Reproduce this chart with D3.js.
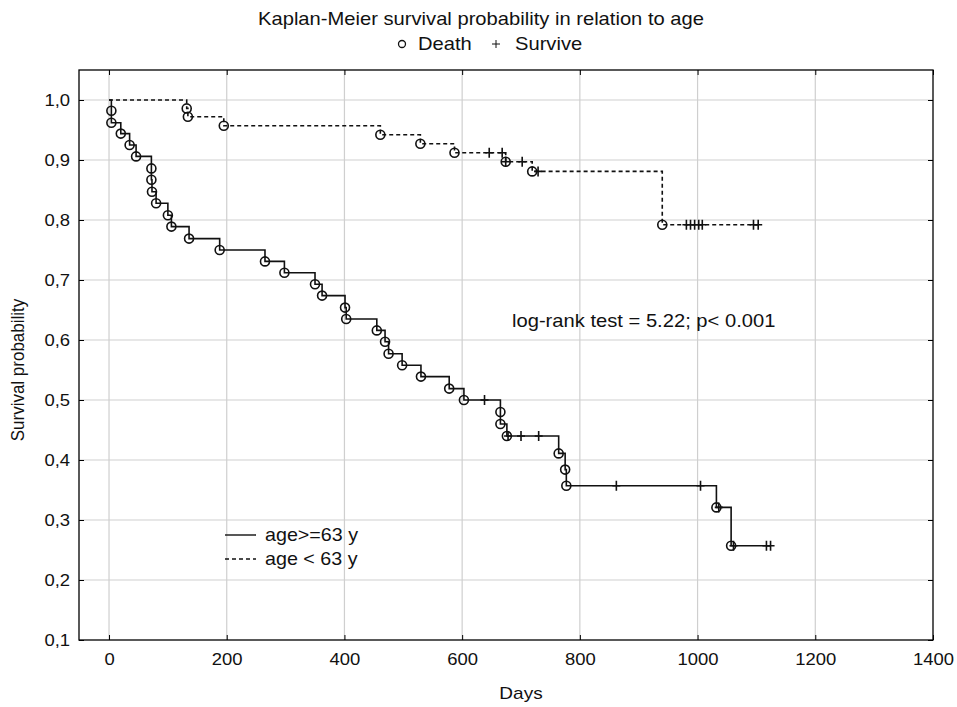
<!DOCTYPE html>
<html>
<head>
<meta charset="utf-8">
<script src="https://cdn.jsdelivr.net/npm/d3@7"></script>
<style>
  body { margin: 0; background: #fff; }
  text { font-family: "Liberation Sans", Arial, sans-serif; fill: #111; }
</style>
</head>
<body>
<div id="container"></div>
<script>
// age >= 63 y : day, survival, status (1 = death, 0 = censored)
const oldDays = [4, 4, 20, 35, 46, 72, 72, 73, 80, 100, 106, 136, 188, 265, 298, 350, 362, 401, 403, 455, 469, 475, 498, 530, 578, 603, 638, 665, 665, 676, 678, 700, 730, 764, 775, 777, 862, 1005, 1032, 1036, 1057, 1061, 1117, 1124];
const oldSurv = [0.982, 0.962, 0.944, 0.925, 0.906, 0.886, 0.867, 0.847, 0.828, 0.808, 0.789, 0.769, 0.750, 0.731, 0.712, 0.693, 0.674, 0.654, 0.635, 0.616, 0.597, 0.577, 0.558, 0.539, 0.519, 0.500, 0.500, 0.480, 0.460, 0.440, 0.440, 0.440, 0.440, 0.411, 0.384, 0.357, 0.357, 0.357, 0.321, 0.321, 0.257, 0.257, 0.257, 0.257];
const oldStatus = [1, 1, 1, 1, 1, 1, 1, 1, 1, 1, 1, 1, 1, 1, 1, 1, 1, 1, 1, 1, 1, 1, 1, 1, 1, 1, 0, 1, 1, 1, 0, 0, 0, 1, 1, 1, 0, 0, 1, 0, 1, 0, 0, 0];

// age < 63 y
const youngDays = [132, 134, 195, 461, 529, 587, 646, 668, 674, 674, 702, 719, 729, 940, 981, 988, 995, 1002, 1008, 1095, 1103];
const youngSurv = [0.986, 0.972, 0.957, 0.942, 0.927, 0.912, 0.912, 0.912, 0.897, 0.897, 0.897, 0.881, 0.881, 0.792, 0.792, 0.792, 0.792, 0.792, 0.792, 0.792, 0.792];
const youngStatus = [1, 1, 1, 1, 1, 1, 0, 0, 1, 0, 0, 1, 0, 1, 0, 0, 0, 0, 0, 0, 0];

const xTicks = [0, 200, 400, 600, 800, 1000, 1200, 1400];
const yTicks = [0.1, 0.2, 0.3, 0.4, 0.5, 0.6, 0.7, 0.8, 0.9, 1.0];

const width = 957, height = 707;
const margin = {top: 70, right: 24, bottom: 67, left: 79};
const stretch = "scale(1.12,1)";

const svg = d3.select("#container").append("svg")
    .attr("width", width)
    .attr("height", height);

const x = d3.scaleLinear().domain([-51, 1400]).range([margin.left, width - margin.right]);
const y = d3.scaleLinear().domain([0.1, 1.05]).range([height - margin.bottom, margin.top]);

const fmt = v => d3.format(".1f")(v).replace(".", ",");

const addText = (tx, ty, str, size, anchor) => svg.append("text")
    .attr("transform", `translate(${tx},${ty})${stretch}`)
    .attr("text-anchor", anchor || "start")
    .style("font-size", size + "px")
    .text(str);

// grid
svg.append("g")
    .selectAll("line")
    .data(xTicks.filter(t => t < 1400))
    .join("line")
    .attr("x1", d => x(d)).attr("x2", d => x(d))
    .attr("y1", y.range()[1]).attr("y2", y.range()[0])
    .attr("stroke", "#cfcfcf").attr("stroke-width", 1.2);
svg.append("g")
    .selectAll("line")
    .data(yTicks.filter(t => t > 0.1))
    .join("line")
    .attr("x1", x.range()[0]).attr("x2", x.range()[1])
    .attr("y1", d => y(d)).attr("y2", d => y(d))
    .attr("stroke", "#cfcfcf").attr("stroke-width", 1.2);

// axes with inward ticks
svg.append("g")
    .attr("transform", "translate(0," + y.range()[0] + ")")
    .call(d3.axisBottom(x).tickValues(xTicks).tickSize(-5).tickPadding(13).tickFormat(d3.format("d")))
    .call(g => g.select(".domain").remove())
    .call(g => g.selectAll("text").style("font-size", "16.5px").attr("fill", "#111").attr("transform", stretch));
svg.append("g")
    .attr("transform", "translate(0," + y.range()[1] + ")")
    .call(d3.axisTop(x).tickValues(xTicks).tickSize(-5).tickFormat(""))
    .call(g => g.select(".domain").remove());
svg.append("g")
    .attr("transform", "translate(" + x.range()[0] + ",0)")
    .call(d3.axisLeft(y).tickValues(yTicks).tickSize(-5).tickPadding(8).tickFormat(fmt))
    .call(g => g.select(".domain").remove())
    .call(g => g.selectAll("text").style("font-size", "16.5px").attr("fill", "#111").attr("transform", stretch));
svg.append("g")
    .attr("transform", "translate(" + x.range()[1] + ",0)")
    .call(d3.axisRight(y).tickValues(yTicks).tickSize(-5).tickFormat(""))
    .call(g => g.select(".domain").remove());

svg.append("rect")
    .attr("x", x.range()[0]).attr("y", y.range()[1])
    .attr("width", x.range()[1] - x.range()[0])
    .attr("height", y.range()[0] - y.range()[1])
    .attr("fill", "none").attr("stroke", "#000").attr("stroke-width", 1.3);

// curves
const line = d3.line()
    .x(d => x(d.day))
    .y(d => y(d.surv))
    .curve(d3.curveStepAfter);

const makeSeries = (days, surv, status) => days.map((d, i) => ({day: d, surv: surv[i], status: status[i]}));

const series = [
    {data: makeSeries(oldDays, oldSurv, oldStatus), dash: null},
    {data: makeSeries(youngDays, youngSurv, youngStatus), dash: "4,3"}
];

series.forEach(s => {
    const pts = [{day: 0, surv: 1}].concat(s.data);
    svg.append("path")
        .datum(pts)
        .attr("d", line)
        .attr("fill", "none")
        .attr("stroke", "#111")
        .attr("stroke-width", 1.6)
        .attr("stroke-dasharray", s.dash);

    svg.selectAll(null)
        .data(s.data.filter(d => d.status === 1))
        .enter()
        .append("circle")
        .attr("cx", d => x(d.day))
        .attr("cy", d => y(d.surv))
        .attr("r", 4.5)
        .attr("fill", "none")
        .attr("stroke", "#111")
        .attr("stroke-width", 1.6);

    svg.selectAll(null)
        .data(s.data.filter(d => d.status === 0))
        .enter()
        .append("path")
        .attr("d", d => {
            const cx = x(d.day), cy = y(d.surv);
            return `M${cx - 4},${cy}H${cx + 4}M${cx},${cy - 5}V${cy + 5}`;
        })
        .attr("stroke", "#111")
        .attr("stroke-width", 1.6);
});

// title and symbol key
addText(481, 25, "Kaplan-Meier survival probability in relation to age", 18, "middle");
svg.append("circle")
    .attr("cx", 402).attr("cy", 44).attr("r", 3.5)
    .attr("fill", "none").attr("stroke", "#111").attr("stroke-width", 1.3);
addText(418, 50, "Death", 18);
svg.append("path")
    .attr("d", "M492,44H500M496,40V48")
    .attr("stroke", "#111").attr("stroke-width", 1);
addText(515, 50, "Survive", 18);

// annotation
addText(512, 327, "log-rank test = 5.22; p< 0.001", 18);

// line legend
const legend = [{label: "age>=63 y", dash: null}, {label: "age < 63 y", dash: "4,3"}];
legend.forEach((l, i) => {
    const ly = 535 + i * 24;
    svg.append("line")
        .attr("x1", 225).attr("x2", 256)
        .attr("y1", ly).attr("y2", ly)
        .attr("stroke", "#111").attr("stroke-width", 1.4)
        .attr("stroke-dasharray", l.dash);
    addText(265, ly + 6, l.label, 17.6);
});

// axis titles
addText(x(0) + (x(1400) - x(0)) / 2, 699, "Days", 17, "middle");
svg.append("text")
    .attr("transform", "translate(24," + y(0.55) + ")rotate(-90)scale(1,1.12)")
    .attr("text-anchor", "middle")
    .style("font-size", "17px")
    .text("Survival probability");
</script>
</body>
</html>
